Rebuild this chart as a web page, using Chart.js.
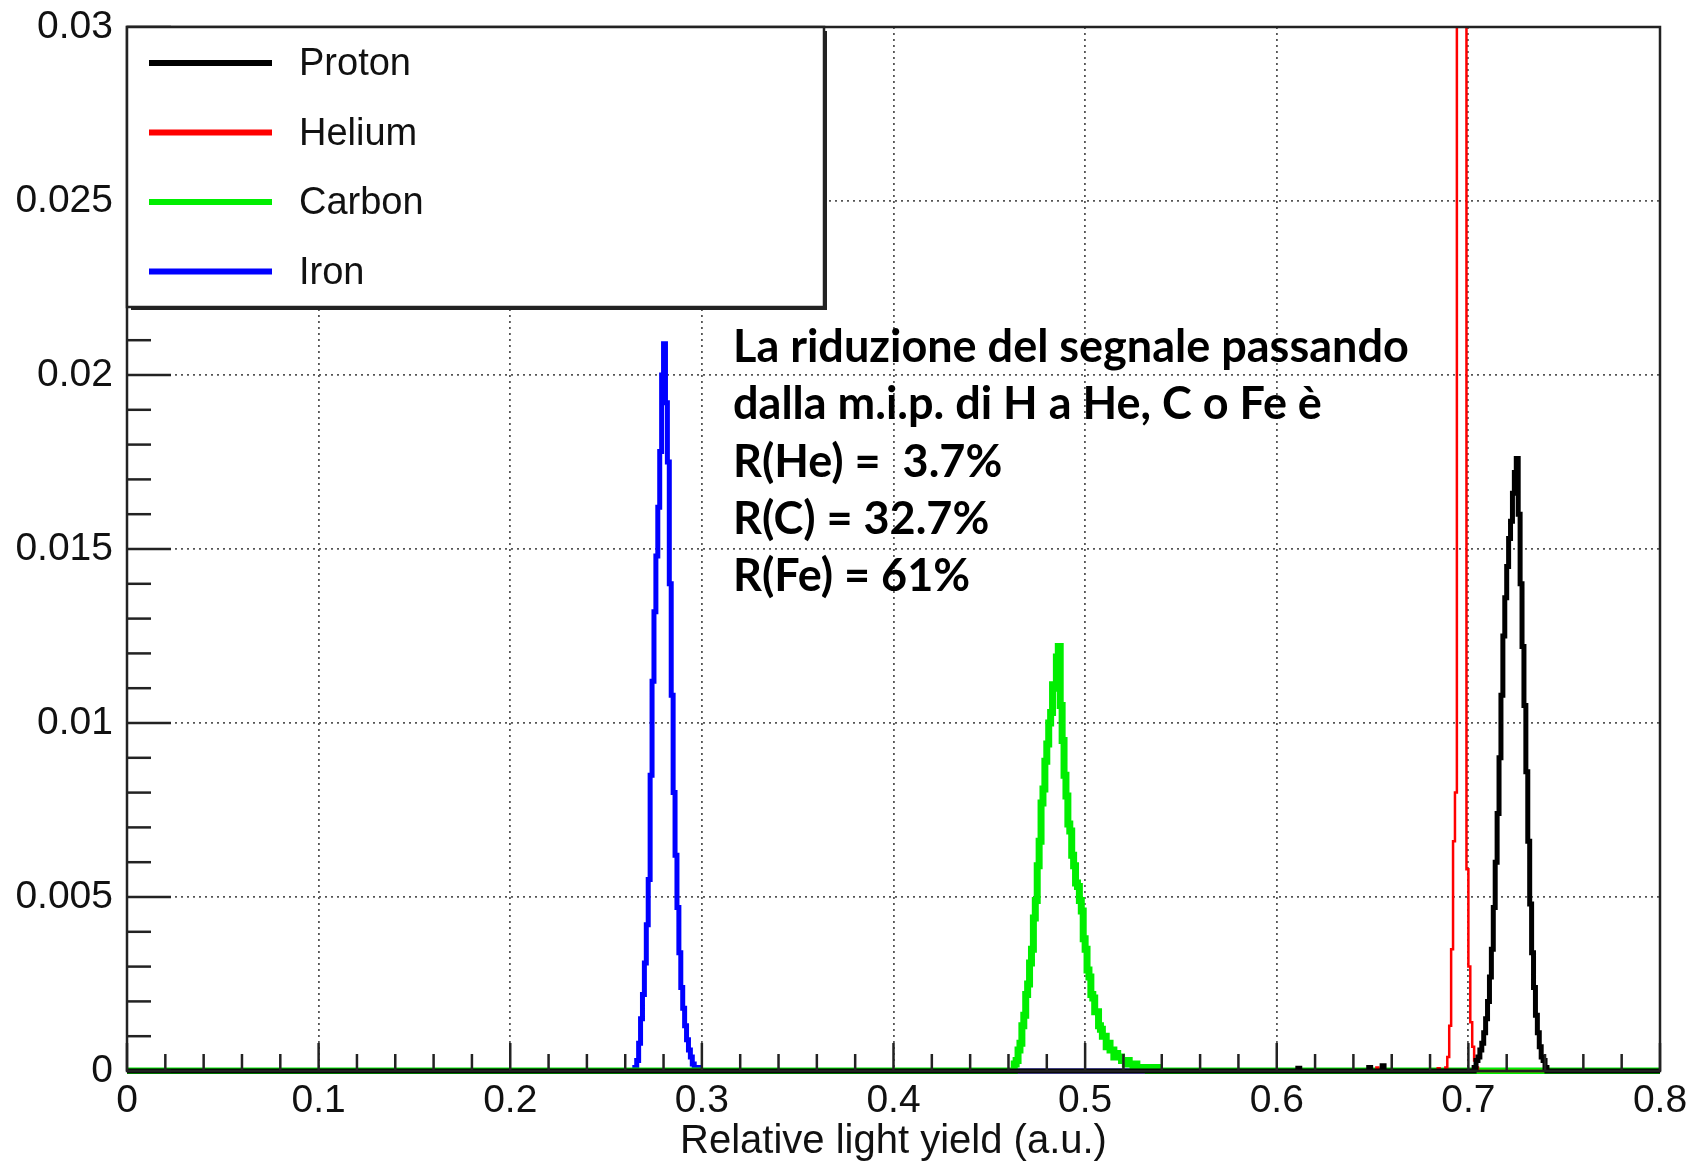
<!DOCTYPE html>
<html>
<head>
<meta charset="utf-8">
<script src="https://cdn.jsdelivr.net/npm/chart.js@4.4.0/dist/chart.umd.min.js"></script>
<style>
  html, body { margin: 0; padding: 0; background: #fff; }
  #wrap { width: 1696px; height: 1166px; }
</style>
</head>
<body>
<div id="wrap"><canvas id="lightYield" width="1696" height="1166"></canvas></div>
<script>
// --- axis ranges / ticks ---
const xMin = 0, xMax = 0.8, xMajorStep = 0.1, xMinorStep = 0.02;
const yMin = 0, yMax = 0.03, yMajorStep = 0.005, yMinorStep = 0.001;
const binWidth = 0.001;

const speciesLabels = ['Proton', 'Helium', 'Carbon', 'Iron'];
const speciesColors = ['#000000', '#ff0000', '#00ee00', '#0000ff'];
const speciesWidths = [5, 2.5, 7, 5];

// --- histogram contents (first bin low edge + bin values) ---
const protonStart = 0.703;
const protonValues = [0.0001, 0.0003, 0.0004, 0.0006, 0.0008, 0.0011, 0.0015, 0.0020, 0.0027, 0.0035,
  0.0047, 0.0060, 0.0074, 0.0090, 0.0108, 0.0125, 0.0136, 0.0145, 0.0153, 0.0158,
  0.0166, 0.0172, 0.0176, 0.0160, 0.0140, 0.0122, 0.0105, 0.0086, 0.0066, 0.0048,
  0.0034, 0.0024, 0.0016, 0.0011, 0.0007, 0.0004, 0.0003, 0.0001, 0];
const protonStrayX = [0.611, 0.648, 0.655];
const protonStrayY = [0.00008, 0.0001, 0.00015];

const heliumStart = 0.688;
const heliumValues = [0.0001, 0.0004, 0.0013, 0.0035, 0.0066, 0.0080, 0.0420, 0.0520, 0.0560, 0.0510,
  0.0390, 0.0058, 0.0030, 0.0014, 0.0007, 0.0003, 0.0001, 0];
const heliumStrayX = [0.652, 0.684];
const heliumStrayY = [0.0001, 0.00008];

const carbonStart = 0.462;
const carbonValues = [0, 0.0002, 0.0003, 0.0006, 0.0008, 0.0013, 0.0016, 0.0022, 0.0025, 0.0031,
  0.0035, 0.0044, 0.0049, 0.0059, 0.0066, 0.0077, 0.0081, 0.0089, 0.0094, 0.0100,
  0.0103, 0.0111, 0.0110, 0.0119, 0.0122, 0.0105, 0.0095, 0.0085, 0.0079, 0.0071,
  0.0069, 0.0062, 0.0059, 0.0054, 0.0053, 0.0049, 0.0046, 0.0038, 0.0035, 0.0029,
  0.0027, 0.0022, 0.0021, 0.0017, 0.0017, 0.0013, 0.0012, 0.0010, 0.0010, 0.0007,
  0.0008, 0.0006, 0.0006, 0.0004, 0.0005, 0.0004, 0.0004, 0.0003, 0.0003, 0.0002,
  0.0003, 0.0002, 0.0002, 0.0001, 0.0002, 0.0001, 0.0001, 0.0001, 0.0001, 0.0001,
  0.0001, 0, 0.0001, 0.0001, 0, 0.0001, 0];

const ironStart = 0.265;
const ironValues = [0.0001, 0.0003, 0.0008, 0.0015, 0.0022, 0.0031, 0.0042, 0.0055, 0.0085, 0.0112,
  0.0132, 0.0148, 0.0162, 0.0178, 0.0200, 0.0209, 0.0192, 0.0175, 0.0140, 0.0108,
  0.0080, 0.0062, 0.0047, 0.0034, 0.0024, 0.0018, 0.0013, 0.0009, 0.0006, 0.0004,
  0.0002, 0.0001, 0.0001, 0.0001, 0];

const xTitle = 'Relative light yield (a.u.)';
const noteLines = [
  'La riduzione del segnale passando',
  'dalla m.i.p. di H a He, C o Fe è',
  'R(He) =  3.7%',
  'R(C) = 32.7%',
  'R(Fe) = 61%'
];

const axisFont = 'Liberation Sans, Arial, Helvetica, sans-serif';

function histPoints(start, values, strayX, strayY) {
  const pts = [{ x: xMin, y: 0 }];
  (strayX || []).forEach((sx, i) => {
    pts.push({ x: sx, y: strayY[i] }, { x: sx + binWidth, y: 0 });
  });
  values.forEach((v, i) => pts.push({ x: start + i * binWidth, y: v }));
  pts.push({ x: start + values.length * binWidth, y: 0 });
  pts.push({ x: xMax, y: 0 });
  return pts.sort((a, b) => a.x - b.x);
}

const histData = [
  histPoints(protonStart, protonValues, protonStrayX, protonStrayY),
  histPoints(heliumStart, heliumValues, heliumStrayX, heliumStrayY),
  histPoints(carbonStart, carbonValues),
  histPoints(ironStart, ironValues)
];

// frame, inner ticks, legend box and note text (ROOT style)
const rootDecor = {
  id: 'rootDecor',
  afterDraw(chart) {
    const { ctx, chartArea: a, scales } = chart;
    ctx.save();
    ctx.strokeStyle = '#222';
    ctx.lineWidth = 2.5;

    // ticks drawn inside the frame
    const nY = Math.round((yMax - yMin) / yMinorStep);
    for (let i = 0; i <= nY; i++) {
      const py = scales.y.getPixelForValue(yMin + i * yMinorStep);
      const len = i % Math.round(yMajorStep / yMinorStep) === 0 ? 44 : 24;
      ctx.beginPath(); ctx.moveTo(a.left, py); ctx.lineTo(a.left + len, py); ctx.stroke();
    }
    const nX = Math.round((xMax - xMin) / xMinorStep);
    for (let i = 0; i <= nX; i++) {
      const px = scales.x.getPixelForValue(xMin + i * xMinorStep);
      const len = i % Math.round(xMajorStep / xMinorStep) === 0 ? 28 : 17;
      ctx.beginPath(); ctx.moveTo(px, a.bottom); ctx.lineTo(px, a.bottom - len); ctx.stroke();
    }
    ctx.strokeRect(a.left, a.top, a.right - a.left, a.bottom - a.top);

    // legend
    const bx = a.left, by = a.top, bw = 697, bh = 280;
    ctx.fillStyle = '#fff';
    ctx.fillRect(bx, by, bw, bh);
    ctx.strokeRect(bx, by, bw, bh);
    ctx.lineWidth = 4;
    ctx.beginPath();
    ctx.moveTo(bx + 4, by + bh + 1); ctx.lineTo(bx + bw + 1, by + bh + 1); ctx.lineTo(bx + bw + 1, by + 4);
    ctx.stroke();
    ctx.font = '38px ' + axisFont;
    ctx.textBaseline = 'middle';
    ctx.textAlign = 'left';
    chart.data.datasets.forEach((ds, i) => {
      const ly = by + 36 + i * 69.5;
      ctx.strokeStyle = ds.borderColor;
      ctx.lineWidth = 6;
      ctx.beginPath(); ctx.moveTo(bx + 22, ly); ctx.lineTo(bx + 145, ly); ctx.stroke();
      ctx.fillStyle = '#111';
      ctx.fillText(ds.label, bx + 172, ly + 2);
    });

    // note
    ctx.fillStyle = '#000';
    ctx.font = 'bold 45px Lato, "Open Sans", sans-serif';
    ctx.textBaseline = 'alphabetic';
    noteLines.forEach((t, i) => ctx.fillText(t, a.left + 606, a.top + 335 + i * 57.3));
    ctx.restore();
  }
};

const gridStyle = { color: '#555', lineWidth: 1.8, drawTicks: false };

new Chart(document.getElementById('lightYield').getContext('2d'), {
  type: 'line',
  data: {
    datasets: speciesLabels.map((label, i) => ({
      label,
      data: histData[i],
      borderColor: speciesColors[i],
      borderWidth: speciesWidths[i],
      stepped: 'before',
      pointRadius: 0,
      fill: false,
      clip: { left: 1, top: 0, right: 1, bottom: 3 }
    }))
  },
  options: {
    responsive: false,
    animation: false,
    layout: { padding: { left: 0, top: 27, right: 36, bottom: 0 } },
    plugins: { legend: { display: false }, tooltip: { enabled: false } },
    scales: {
      x: {
        type: 'linear', min: xMin, max: xMax,
        ticks: {
          stepSize: xMajorStep, autoSkip: false, maxRotation: 0, padding: 7,
          color: '#111', font: { family: axisFont, size: 39 },
          callback: v => String(+v.toFixed(1))
        },
        grid: gridStyle,
        border: { display: false, dash: [2, 4] },
        title: { display: true, text: xTitle, color: '#111', font: { family: axisFont, size: 40 }, padding: { top: 0, bottom: 0 } },
        afterFit: s => { s.height = 95; s.paddingLeft = 0; s.paddingRight = 0; }
      },
      y: {
        type: 'linear', min: yMin, max: yMax,
        ticks: {
          stepSize: yMajorStep, padding: 14,
          color: '#111', font: { family: axisFont, size: 39 },
          callback: v => String(+v.toFixed(3))
        },
        grid: gridStyle,
        border: { display: false, dash: [2, 4] },
        afterFit: s => { s.width = 127; s.paddingTop = 0; s.paddingBottom = 0; }
      }
    }
  },
  plugins: [rootDecor]
});
</script>
</body>
</html>
